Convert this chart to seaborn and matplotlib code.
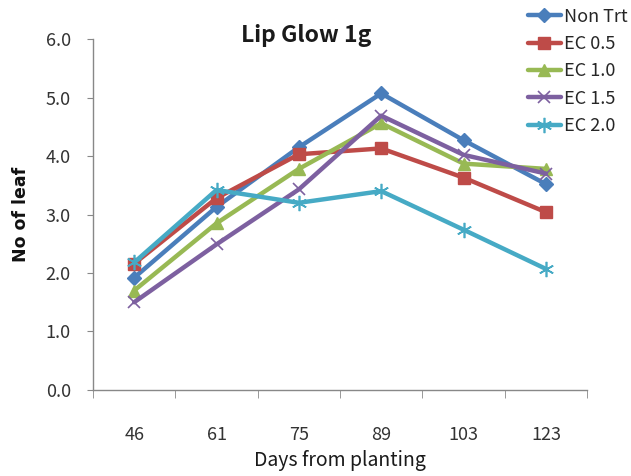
import matplotlib
matplotlib.use("Agg")
import matplotlib.pyplot as plt
import seaborn as sns
import pandas as pd
from matplotlib.ticker import FixedLocator

days = ["46", "61", "75", "89", "103", "123"]
non_trt = [1.92, 3.13, 4.15, 5.07, 4.27, 3.52]
ec_05 = [2.16, 3.28, 4.03, 4.13, 3.63, 3.04]
ec_10 = [1.70, 2.85, 3.78, 4.56, 3.87, 3.78]
ec_15 = [1.50, 2.49, 3.43, 4.69, 4.02, 3.70]
ec_20 = [2.18, 3.42, 3.20, 3.40, 2.74, 2.07]

series_names = ["Non Trt", "EC 0.5", "EC 1.0", "EC 1.5", "EC 2.0"]
series_values = [non_trt, ec_05, ec_10, ec_15, ec_20]
colors = ["#4A7EBB", "#BE4B48", "#98B954", "#7D60A0", "#46AAC5"]
marker_shapes = ["D", "s", "^", "x", (6, 2, 0)]
marker_sizes = [7, 9, 8, 9, 11]
marker_edges = [1.0, 1.0, 1.0, 1.2, 1.2]

text_font = ["Noto Sans CJK KR", "DejaVu Sans"]

sns.set_style("white")
plt.rcParams["font.family"] = text_font

fig = plt.figure(figsize=(6.31, 4.76), dpi=100)
ax = fig.add_axes([0.1474, 0.1807, 0.783, 0.7373])

for name, vals, c, m, ms, mew in zip(series_names, series_values, colors,
                                     marker_shapes, marker_sizes, marker_edges):
    df = pd.DataFrame({"day": days, "leaf": vals})
    sns.lineplot(data=df, x="day", y="leaf", color=c, marker=m, markersize=ms,
                 markeredgewidth=mew, markeredgecolor=c, markerfacecolor=c,
                 linewidth=3.2, sort=False, label=name, ax=ax)

ax.set_xlim(-0.5, len(days) - 0.5)
ax.set_ylim(0, 6)
ax.set_yticks([0, 1, 2, 3, 4, 5, 6])
ax.set_yticklabels([f"{v:.1f}" for v in range(7)], fontsize=13, color="#333333")
ax.set_xticks(range(len(days)))
ax.set_xticklabels(days, fontsize=13, color="#333333")
ax.tick_params(axis="x", which="major", length=0, pad=26)
ax.xaxis.set_minor_locator(FixedLocator([i - 0.5 for i in range(len(days) + 1)]))
ax.tick_params(axis="x", which="minor", length=6, color="#888888", direction="out", bottom=True)
ax.tick_params(axis="y", length=4, color="#888888", direction="out", left=True, pad=12)

for s in ["top", "right"]:
    ax.spines[s].set_visible(False)
for s in ["left", "bottom"]:
    ax.spines[s].set_color("#888888")
    ax.spines[s].set_linewidth(1.0)

ax.set_xlabel("Days from planting", fontsize=14, fontweight="medium", color="#1a1a1a",
              va="center")
ax.xaxis.set_label_coords(0.5, -0.202)
ax.set_ylabel("No of leaf", fontsize=12.5, fontweight="bold", color="#111111",
              family=["DejaVu Sans"], va="center")
ax.yaxis.set_label_coords(-0.146, 0.5)
ax.set_title("Lip Glow 1g", fontsize=16.5, fontweight="bold", color="#1a1a1a", pad=-2,
             x=0.431)

handles, labels = ax.get_legend_handles_labels()
ax.legend(handles, labels, loc="upper left", bbox_to_anchor=(0.836, 0.984),
          bbox_transform=fig.transFigure, frameon=False, fontsize=13,
          handlelength=1.85, handletextpad=0.15, labelspacing=0.52, borderaxespad=0.0,
          borderpad=0.0)

fig.savefig("out.png", dpi=100)
